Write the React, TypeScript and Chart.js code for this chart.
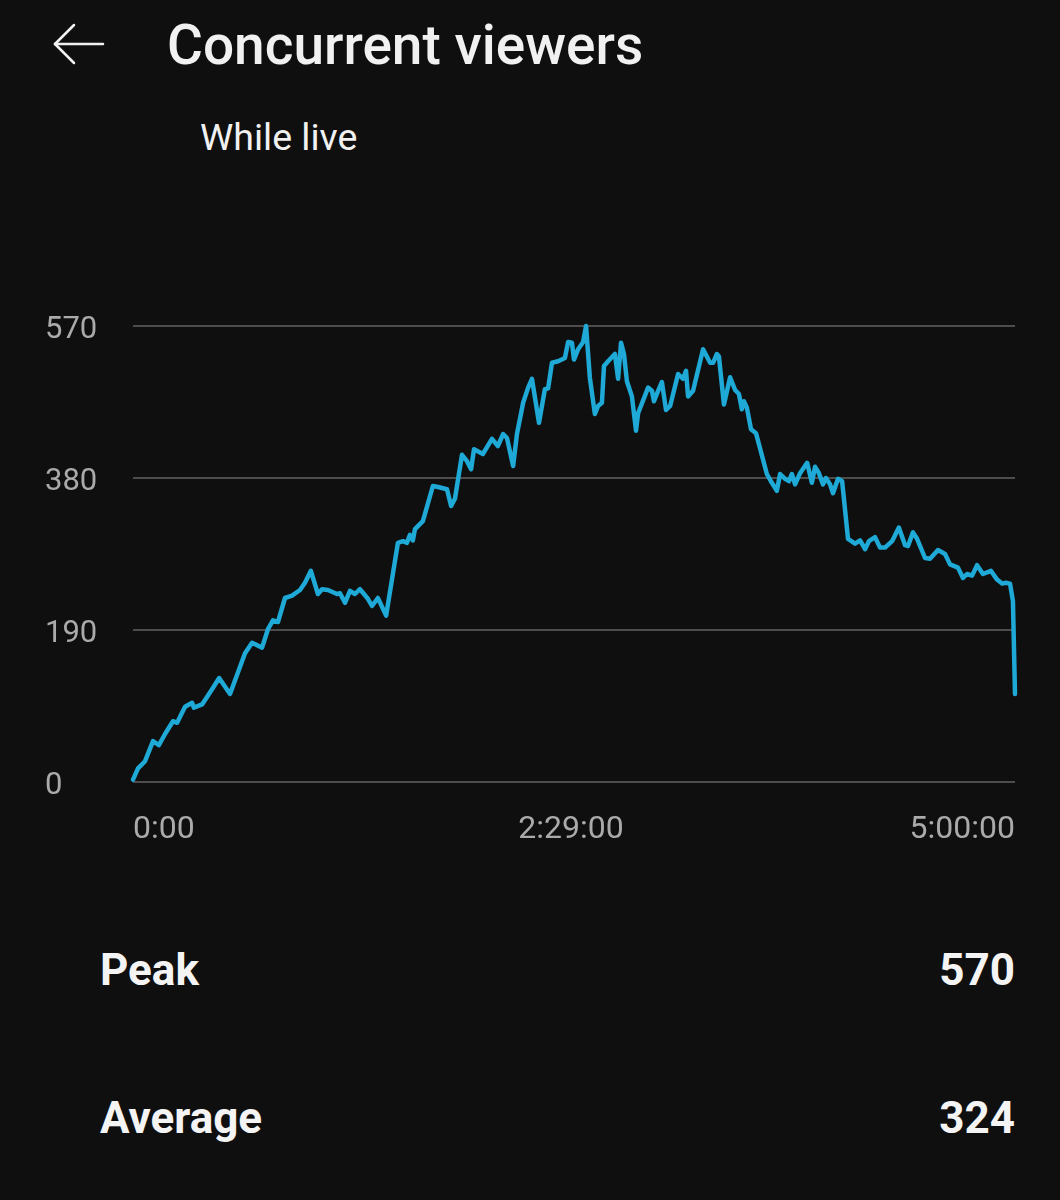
import React, { useEffect, useRef } from "react";
import { Chart, registerables } from "chart.js";

Chart.register(...registerables);

// elapsed time in minutes (0 .. 300 = 5:00:00)
const timeMinutes = [
  0, 1.7, 4.1, 6.8, 8.8, 10.9, 13.6, 15.0, 17.7, 20.1, 20.7, 23.5, 26.9, 29.3, 33.0,
  38.1, 40.5, 43.9, 45.9, 47.6, 49.3, 51.7, 54.1, 56.8, 58.5, 60.5, 62.9, 64.3, 66.3,
  69.4, 70.4, 72.1, 73.8, 75.5, 77.2, 79.9, 81.3, 83.3, 86.1, 90.1, 91.8, 93.2, 94.2,
  95.2, 95.9, 98.6, 102.0, 103.4, 106.8, 108.2, 109.5, 111.9, 113.6, 115.0, 116.0,
  119.0, 122.1, 124.1, 125.9, 127.2, 129.3, 130.6, 132.7, 134.4, 135.7, 138.1, 140.1,
  141.2, 142.5, 144.6, 146.9, 148.0, 149.3, 150.0, 151.4, 153.1, 154.1, 155.4, 157.1,
  158.2, 159.5, 160.2, 161.6, 163.9, 165.0, 166.0, 167.0, 168.0, 169.7, 171.1, 171.8,
  175.2, 176.5, 177.2, 178.6, 179.9, 181.3, 182.7, 185.4, 187.1, 188.1, 188.8, 190.5,
  193.9, 196.3, 197.3, 198.6, 199.3, 201.0, 203.1, 204.8, 206.1, 207.1, 207.8, 208.8,
  210.2, 211.9, 215.6, 217.3, 219.0, 220.1, 221.8, 223.1, 224.1, 225.2, 226.9, 229.3,
  230.9, 232.0, 233.3, 234.7, 235.7, 237.1, 238.1, 239.8, 241.2, 243.2, 245.6, 247.3,
  249.0, 250.3, 252.4, 254.1, 255.8, 258.2, 260.5, 262.6, 263.6, 265.3, 266.7, 269.4,
  271.1, 273.8, 276.2, 277.9, 280.6, 282.3, 283.7, 285.4, 287.1, 289.1, 291.8, 293.9,
  295.6, 296.9, 298.3, 299.3, 300,
];

const viewers = [
  3, 17, 26, 51, 46, 60, 76, 74, 94, 99, 93, 97, 116, 130, 110,
  161, 174, 168, 191, 202, 200, 230, 233, 240, 249, 264, 235, 241, 240,
  235, 236, 224, 239, 235, 241, 229, 220, 230, 208, 299, 301, 299, 309,
  302, 316, 326, 370, 369, 366, 345, 354, 409, 401, 391, 416,
  410, 429, 420, 435, 430, 395, 435, 474, 493, 504, 449, 491,
  492, 524, 526, 530, 550, 549, 528, 541, 550, 570, 505, 460,
  470, 474, 520, 526, 535, 504, 549, 535, 501, 482, 439, 461,
  493, 489, 476, 489, 500, 465, 470, 510, 504, 514, 482, 489,
  541, 524, 524, 535, 532, 472, 506, 490, 485, 466, 476, 468,
  441, 436, 385, 374, 364, 385, 379, 376, 385, 372, 386, 399,
  374, 394, 386, 372, 380, 372, 361, 379, 376, 304, 298, 302,
  291, 301, 306, 293, 293, 301, 318, 296, 295, 312, 304, 280,
  279, 290, 285, 272, 268, 255, 260, 258, 271, 260, 264, 253,
  248, 249, 248, 226, 110,
];

const xTickValues = [0, 149, 300];
const xTickLabels = ["0:00", "2:29:00", "5:00:00"];
const yTickValues = [0, 190, 380, 570];

const titleText = "Concurrent viewers";
const subtitleText = "While live";
const statLabels = ["Peak", "Average"];
const statValues = ["570", "324"];

const BG = "#0f0f0f";
const LINE = "#1ea9d6";
const FONT = "Roboto, 'Noto Sans', sans-serif";

export default function App() {
  const canvasRef = useRef<HTMLCanvasElement | null>(null);

  useEffect(() => {
    document.body.style.margin = "0";
    document.body.style.background = BG;
    const ctx = canvasRef.current;
    if (!ctx) return;
    const chart = new Chart(ctx, {
      type: "line",
      data: {
        datasets: [
          {
            data: timeMinutes.map((t, i) => ({ x: t, y: viewers[i] })),
            borderColor: LINE,
            borderWidth: 4.5,
            pointRadius: 0,
            tension: 0,
            fill: false,
            clip: false as any,
            borderJoinStyle: "round",
            borderCapStyle: "round",
          },
        ],
      },
      options: {
        animation: false,
        responsive: false,
        maintainAspectRatio: false,
        layout: { padding: { left: 45, right: 45, top: 45, bottom: 0 } },
        plugins: { legend: { display: false }, tooltip: { enabled: false } },
        scales: {
          x: {
            type: "linear",
            min: 0,
            max: 300,
            grid: { display: false, drawTicks: false },
            border: { display: false },
            afterBuildTicks: (s: any) => {
              s.ticks = xTickValues.map((v) => ({ value: v }));
            },
            afterFit: (s: any) => {
              s.height = 79;
            },
            ticks: {
              align: "inner",
              maxRotation: 0,
              autoSkip: false,
              padding: 29,
              color: "#aaaaaa",
              font: { family: FONT, size: 32 },
              callback: (v: any) => {
                const i = xTickValues.indexOf(Number(v));
                return i >= 0 ? xTickLabels[i] : "";
              },
            },
          },
          y: {
            min: 0,
            max: 570,
            grid: { color: "#4d4d4d", lineWidth: 2, drawTicks: false },
            border: { display: false },
            afterBuildTicks: (s: any) => {
              s.ticks = yTickValues.map((v) => ({ value: v }));
            },
            afterFit: (s: any) => {
              s.width = 88;
            },
            ticks: {
              crossAlign: "far",
              autoSkip: false,
              labelOffset: 4,
              color: "#aaaaaa",
              font: { family: FONT, size: 31 },
            },
          },
        },
      },
    });
    return () => chart.destroy();
  }, []);

  return (
    <div
      style={{
        position: "absolute",
        left: 0,
        top: 0,
        width: 1060,
        height: 1200,
        background: BG,
        fontFamily: FONT,
        color: "#f1f1f1",
        overflow: "hidden",
      }}
    >
      <svg
        width={60}
        height={50}
        style={{ position: "absolute", left: 50, top: 19 }}
      >
        <g stroke="#f1f1f1" strokeWidth={2.5} fill="none" strokeLinecap="round">
          <line x1={5} y1={25} x2={53} y2={25} />
          <line x1={5} y1={25} x2={24} y2={6} />
          <line x1={5} y1={25} x2={24} y2={44} />
        </g>
      </svg>
      <div
        style={{
          position: "absolute",
          left: 167,
          top: 18,
          fontSize: 55,
          fontWeight: 500,
          lineHeight: "55px",
          whiteSpace: "nowrap",
        }}
      >
        {titleText}
      </div>
      <div
        style={{
          position: "absolute",
          left: 200,
          top: 119,
          fontSize: 37.5,
          lineHeight: "37px",
          whiteSpace: "nowrap",
        }}
      >
        {subtitleText}
      </div>
      <canvas
        ref={canvasRef}
        width={1060}
        height={580}
        style={{ position: "absolute", left: 0, top: 281, width: 1060, height: 580 }}
      />
      {statLabels.map((lab, i) => (
        <div
          key={lab}
          style={{
            position: "absolute",
            left: 100,
            width: 915,
            top: 947 + i * 148,
            fontSize: 44,
            fontWeight: 700,
            lineHeight: "46px",
            display: "flex",
            justifyContent: "space-between",
            color: "#f4f4f4",
          }}
        >
          <span>{lab}</span>
          <span>{statValues[i]}</span>
        </div>
      ))}
    </div>
  );
}
